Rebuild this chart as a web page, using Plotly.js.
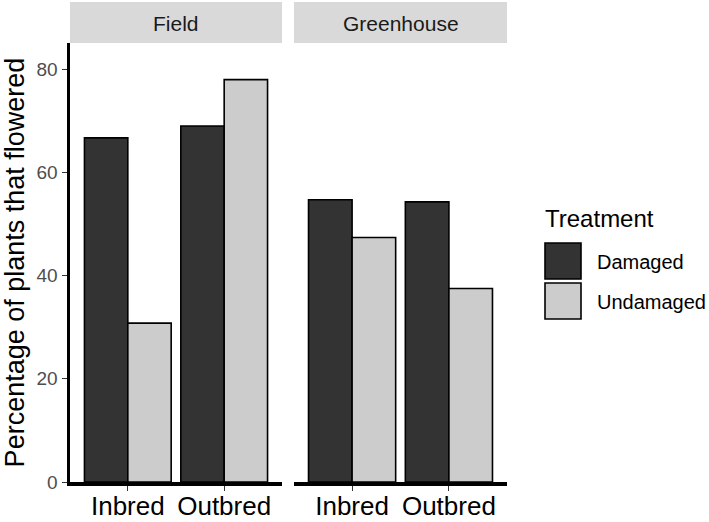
<!DOCTYPE html>
<html>
<head>
<meta charset="utf-8">
<script src="https://cdn.plot.ly/plotly-3.0.1.min.js"></script>
<style>html,body{margin:0;padding:0;background:#fff;}#chart{width:709px;height:522px;}</style>
</head>
<body>
<div id="chart"></div>
<script>
const categories = ['Inbred', 'Outbred'];
const facets = ['Field', 'Greenhouse'];
const treatments = ['Damaged', 'Undamaged'];
const treatmentColors = ['#333333', '#cccccc'];
const fieldDamaged = [66.7, 69.0];
const fieldUndamaged = [30.8, 78.0];
const greenhouseDamaged = [54.7, 54.3];
const greenhouseUndamaged = [47.4, 37.5];
const yTicks = [0, 20, 40, 60, 80];
const yTitle = 'Percentage of plants that flowered';
const legendTitle = 'Treatment';

const FONT = 'Liberation Sans, Arial, sans-serif';
const W = 709, H = 522;
const L = 70, R = 202, T = 43, B = 40;
const plotW = W - L - R, plotH = H - T - B;
const px2x = p => (p - L) / plotW;
const px2y = p => (H - B - p) / plotH;

const series = [
  [fieldDamaged, fieldUndamaged],
  [greenhouseDamaged, greenhouseUndamaged]
];
const traces = [];
facets.forEach((f, fi) => {
  treatments.forEach((t, ti) => {
    traces.push({
      type: 'bar',
      x: categories,
      y: series[fi][ti],
      name: t,
      xaxis: fi === 0 ? 'x' : 'x2',
      yaxis: 'y',
      offsetgroup: t,
      marker: {color: treatmentColors[ti], line: {color: '#000000', width: 1.6}},
      showlegend: false,
      hoverinfo: 'none'
    });
  });
});

const xCommon = {
  type: 'category',
  range: [-0.6, 1.6],
  showline: true, linecolor: '#000000', linewidth: 3.5,
  ticks: 'outside', ticklen: 5, tickwidth: 1, tickcolor: '#333333',
  ticklabelstandoff: -7,
  tickfont: {family: FONT, size: 26, color: '#000000'},
  showgrid: false, zeroline: false, fixedrange: true
};
const split = 212 / plotW;
const split2 = 224 / plotW;

const shapes = [];
const annotations = [];
facets.forEach((f, fi) => {
  const xr = fi === 0 ? 'x domain' : 'x2 domain';
  shapes.push({type: 'rect', xref: xr, yref: 'paper', x0: 0, x1: 1, y0: px2y(43), y1: px2y(2),
    fillcolor: '#d9d9d9', line: {width: 0}, layer: 'below'});
  annotations.push({xref: xr, yref: 'paper', x: 0.5, y: px2y(23), text: f, showarrow: false,
    xanchor: 'center', yanchor: 'middle', font: {family: FONT, size: 21, color: '#1a1a1a'}});
});
// legend
annotations.push({xref: 'paper', yref: 'paper', x: px2x(543), y: px2y(218), text: legendTitle,
  showarrow: false, xanchor: 'left', yanchor: 'middle', font: {family: FONT, size: 24, color: '#000000'}});
const keyTop = [243, 283];
treatments.forEach((t, i) => {
  shapes.push({type: 'rect', xref: 'paper', yref: 'paper', x0: px2x(545), x1: px2x(581),
    y0: px2y(keyTop[i] + 36), y1: px2y(keyTop[i]), fillcolor: treatmentColors[i],
    line: {color: '#000000', width: 1.6}});
  annotations.push({xref: 'paper', yref: 'paper', x: px2x(595), y: px2y(keyTop[i] + 19), text: t,
    showarrow: false, xanchor: 'left', yanchor: 'middle', font: {family: FONT, size: 20, color: '#000000'}});
});

const layout = {
  width: W, height: H,
  margin: {l: L, r: R, t: T, b: B, pad: 0},
  paper_bgcolor: '#ffffff', plot_bgcolor: '#ffffff',
  barmode: 'group', bargap: 0.1, bargroupgap: 0,
  showlegend: false,
  xaxis: Object.assign({}, xCommon, {domain: [0, split], anchor: 'y'}),
  xaxis2: Object.assign({}, xCommon, {domain: [split2, 1], anchor: 'y'}),
  yaxis: {
    range: [0, 85.1], tickvals: yTicks, ticktext: yTicks.map(String),
    showline: true, linecolor: '#000000', linewidth: 3.5,
    ticks: 'outside', ticklen: 5, tickwidth: 1, tickcolor: '#333333',
    tickfont: {family: FONT, size: 19, color: '#4d4d4d'},
    showgrid: false, zeroline: false, fixedrange: true,
    title: {text: yTitle, font: {family: FONT, size: 27, color: '#000000'}, standoff: 7}
  },
  shapes: shapes,
  annotations: annotations
};
Plotly.newPlot('chart', traces, layout, {displayModeBar: false, staticPlot: true});
</script>
</body>
</html>
